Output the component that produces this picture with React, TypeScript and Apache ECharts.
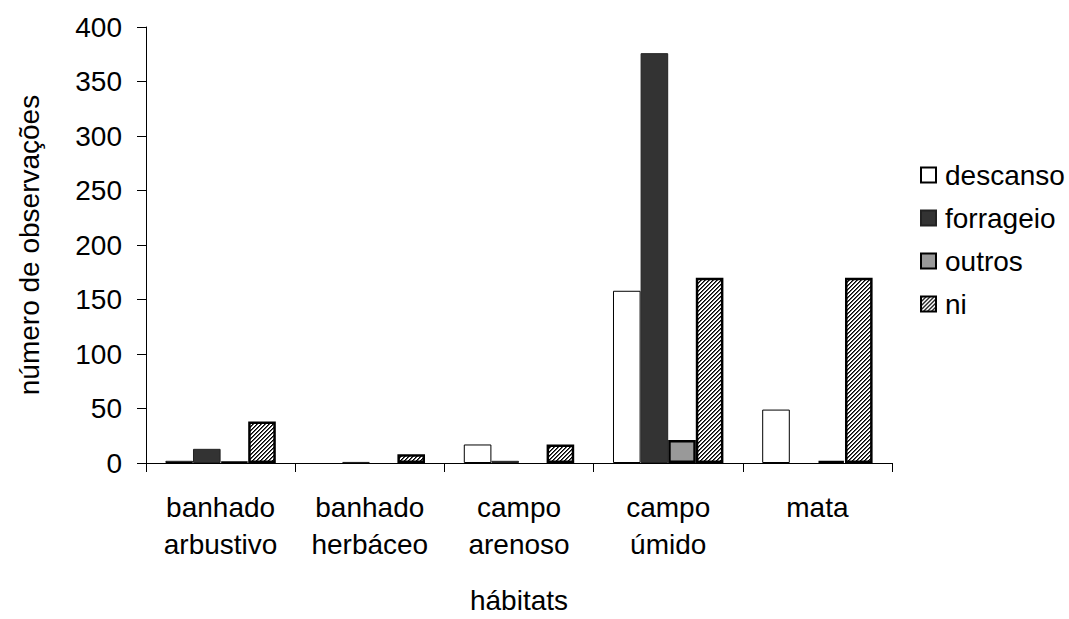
import React, { useEffect, useRef } from "react";
import * as echarts from "echarts";

// Habitat categories (two-line labels)
const habitats = [
  "banhado\narbustivo",
  "banhado\nherbáceo",
  "campo\narenoso",
  "campo\númido",
  "mata",
];

// Observations per behaviour in each habitat
const descanso = [2, 0, 17, 158, 49];
const forrageio = [13, 1, 2, 376, 0];
const outros = [1, 0, 0, 21, 2];
const ni = [38, 8, 17, 170, 170];

const yTicks = { min: 0, max: 400, interval: 50 };

const FONT = "'Liberation Sans', Arial, sans-serif";
const FS = 28;

// Fine diagonal hatch used for the "ni" bars
function makeHatch(): HTMLCanvasElement {
  const c = document.createElement("canvas");
  c.width = 4;
  c.height = 4;
  const ctx = c.getContext("2d")!;
  ctx.fillStyle = "#ffffff";
  ctx.fillRect(0, 0, 4, 4);
  for (let y = 0; y < 4; y++) {
    for (let x = 0; x < 4; x++) {
      const k = (x + y) % 4;
      if (k === 0) {
        ctx.fillStyle = "#000000";
        ctx.fillRect(x, y, 1, 1);
      } else if (k === 1) {
        ctx.fillStyle = "#555555";
        ctx.fillRect(x, y, 1, 1);
      }
    }
  }
  return c;
}

const toBarData = (arr: number[]) => arr.map((v) => (v === 0 ? "-" : v));

export default function App() {
  const ref = useRef<HTMLDivElement>(null);

  useEffect(() => {
    if (!ref.current) return;
    const chart = echarts.init(ref.current, null, { renderer: "svg" });
    const hatch = makeHatch();

    const barCommon = {
      type: "bar" as const,
      barGap: "0%",
      barCategoryGap: "26%",
    };

    chart.setOption({
      animation: false,
      backgroundColor: "#ffffff",
      textStyle: { fontFamily: FONT, color: "#000" },
      grid: { left: 146, right: 177, top: 27, bottom: 151, containLabel: false },
      legend: {
        orient: "vertical",
        left: 915,
        top: 156,
        itemWidth: 15,
        itemHeight: 15,
        itemGap: 15,
        icon: "rect",
        textStyle: { fontFamily: FONT, fontSize: FS, color: "#000", padding: [0, 0, 0, 4] },
        data: ["descanso", "forrageio", "outros", "ni"],
      },
      xAxis: {
        type: "category",
        data: habitats,
        name: "hábitats",
        nameLocation: "middle",
        nameGap: 123,
        nameTextStyle: { fontFamily: FONT, fontSize: FS, color: "#000" },
        axisLine: { lineStyle: { color: "#000", width: 1 } },
        axisTick: { show: true, length: 9, inside: false, interval: 0, lineStyle: { color: "#000" } },
        axisLabel: {
          interval: 0,
          margin: 26,
          fontFamily: FONT,
          fontSize: FS,
          lineHeight: 37,
          color: "#000",
        },
        splitLine: { show: false },
      },
      yAxis: {
        type: "value",
        min: yTicks.min,
        max: yTicks.max,
        interval: yTicks.interval,
        name: "número de observações",
        nameLocation: "middle",
        nameGap: 103,
        nameRotate: 90,
        nameTextStyle: { fontFamily: FONT, fontSize: FS, color: "#000" },
        axisLine: { show: true, lineStyle: { color: "#000", width: 1 } },
        axisTick: { show: true, length: 9, inside: false, lineStyle: { color: "#000" } },
        axisLabel: { margin: 24, fontFamily: FONT, fontSize: FS, color: "#000" },
        splitLine: { show: false },
      },
      series: [
        {
          ...barCommon,
          name: "descanso",
          data: toBarData(descanso),
          itemStyle: { color: "#ffffff", borderColor: "#000000", borderWidth: 1 },
        },
        {
          ...barCommon,
          name: "forrageio",
          data: toBarData(forrageio),
          itemStyle: { color: "#333333", borderColor: "#222222", borderWidth: 1 },
        },
        {
          ...barCommon,
          name: "outros",
          data: toBarData(outros),
          itemStyle: { color: "#999999", borderColor: "#000000", borderWidth: 2.5 },
        },
        {
          ...barCommon,
          name: "ni",
          data: toBarData(ni),
          itemStyle: {
            color: { image: hatch, repeat: "repeat" },
            borderColor: "#000000",
            borderWidth: 2.5,
          },
        },
      ],
    });

    return () => chart.dispose();
  }, []);

  return (
    <div
      ref={ref}
      style={{ position: "absolute", left: 0, top: 0, width: 1069, height: 619 }}
    />
  );
}
